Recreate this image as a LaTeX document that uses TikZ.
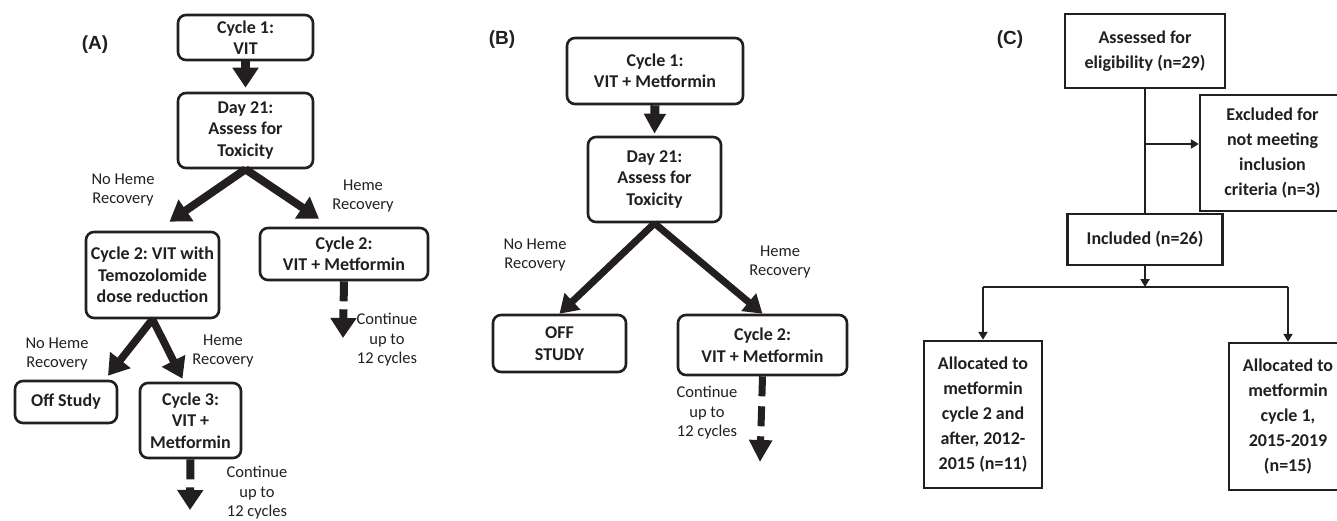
\documentclass[tikz,border=0pt]{standalone}
\usepackage{fontspec}
\setmainfont{Carlito}
\newfontfamily\labelfont{Liberation Sans}
\usetikzlibrary{arrows.meta}
\frenchspacing

\definecolor{ink}{RGB}{35,31,32}

\tikzset{
  rbox/.style={draw=ink, line width=2.6pt, rounded corners=8pt, align=center, inner sep=0pt,
               text=ink, font=\bfseries\fontsize{18}{21.5}\selectfont},
  sbox/.style={draw=ink, line width=2.4pt, align=center, inner sep=0pt,
               text=ink, font=\bfseries\fontsize{18}{25}\selectfont},
  note/.style={align=center, text=ink, font=\fontsize{16.5}{19.5}\selectfont},
  panel/.style={text=ink, font=\labelfont\bfseries\fontsize{19}{22}\selectfont},
  bigarrow/.style={draw=ink, line width=8pt, -{Triangle[width=25pt,length=20pt]}},
  dasharrow/.style={bigarrow, dash pattern=on 20pt off 8pt},
  thinline/.style={draw=ink, line width=2pt},
  thinarrow/.style={thinline, -{Triangle[width=9pt,length=8pt]}},
}

\begin{document}
\begin{tikzpicture}[x=1pt, y=-1pt]

\useasboundingbox (0,0) rectangle (1337,521);

% ===== Panel A: VIT first =====
\begin{scope}[shift={(0,0)}]
    % Label
    \node[panel] (labA) at (95,45) {(A)};

    % Boxes
    \node[rbox, minimum width=135pt, minimum height=45pt] (a1) at (245.5,37.5) {Cycle 1:\\VIT};
    \node[rbox, minimum width=135pt, minimum height=75pt] (a21) at (245.5,130.5) {Day 21:\\Assess for\\Toxicity};
    \node[rbox, minimum width=133pt, minimum height=86pt] (a2red) at (152.5,275) {Cycle 2: VIT with\\Temozolomide\\dose reduction};
    \node[rbox, minimum width=168pt, minimum height=52pt] (a2met) at (344,254) {Cycle 2:\\VIT + Metformin};
    \node[rbox, minimum width=102pt, minimum height=42pt] (aoff) at (66,402) {Off Study};
    \node[rbox, minimum width=101pt, minimum height=75pt] (a3) at (190.5,420.5) {Cycle 3:\\VIT +\\Metformin};

    % Notes
    \node[note] (anoa) at (123,190) {No Heme\\Recovery};
    \node[note] (ayesa) at (363,196) {Heme\\Recovery};
    \node[note] (anob) at (57,354) {No Heme\\Recovery};
    \node[note] (ayesb) at (223,351) {Heme\\Recovery};
    \node[note] (aconta) at (387,340) {Continue\\up to\\12 cycles};
    \node[note] (acontb) at (257,493) {Continue\\up to\\12 cycles};

    % Arrows
    \coordinate (aenda) at (343,338);
    \coordinate (aendb) at (190,510);
    \draw[bigarrow, line width=9pt] (a1.south) -- ([yshift=4pt]a21.north);
    \draw[bigarrow] (a21.south) -- ([xshift=17pt,yshift=9pt]a2red.north);
    \draw[bigarrow] (a21.south) -- ([xshift=-25pt,yshift=8pt]a2met.north);
    \draw[bigarrow, line width=7.5pt] (a2red.south) -- ([xshift=42pt,yshift=4pt]aoff.north);
    \draw[bigarrow, line width=7.5pt] (a2red.south) -- ([xshift=-8pt,yshift=3pt]a3.north);
    \draw[dasharrow] (a2met.south) -- (aenda);
    \draw[dasharrow] (a3.south) -- (aendb);
\end{scope}

% ===== Panel B: metformin from cycle 1 =====
\begin{scope}[shift={(450,0)}]
    % Label
    \node[panel] (labB) at (52,40) {(B)};

    % Boxes
    \node[rbox, minimum width=176pt, minimum height=66pt] (b1) at (205,71) {Cycle 1:\\VIT + Metformin};
    \node[rbox, minimum width=133pt, minimum height=85pt] (b21) at (204.5,179.5) {Day 21:\\Assess for\\Toxicity};
    \node[rbox, minimum width=133pt, minimum height=57pt] (boff) at (109.5,343.5) {OFF\\STUDY};
    \node[rbox, minimum width=169pt, minimum height=60pt] (b2) at (312.5,345) {Cycle 2:\\VIT + Metformin};

    % Notes
    \node[note] (bno) at (85,255) {No Heme\\Recovery};
    \node[note] (byes) at (330,262) {Heme\\Recovery};
    \node[note] (bcont) at (257,413) {Continue\\up to\\12 cycles};

    % Arrows
    \coordinate (bend) at (310,462);
    \draw[bigarrow, line width=9pt, -{Triangle[width=21pt,length=20pt]}] (b1.south) -- ([yshift=2pt]b21.north);
    \draw[bigarrow, line width=7pt, -{Triangle[width=22pt,length=18pt]}] (b21.south) -- (boff.north);
    \draw[bigarrow, line width=7pt, -{Triangle[width=22pt,length=18pt]}] (b21.south) -- (b2.north);
    \draw[dasharrow, line width=7pt, dash pattern=on 20pt off 10pt, -{Triangle[width=22pt,length=22pt]}] (b2.south) -- (bend);
\end{scope}

% ===== Panel C: enrolment =====
\begin{scope}[shift={(860,0)}]
    % Label
    \node[panel] (labC) at (150,40) {(C)};

    % Boxes
    \node[sbox, minimum width=160pt, minimum height=74pt] (assess) at (285,51) {Assessed for\\eligibility (n=29)};
    \node[sbox, minimum width=145pt, minimum height=116pt] (excl) at (412.5,153) {Excluded for\\not meeting\\inclusion\\criteria (n=3)};
    \node[sbox, minimum width=155pt, minimum height=51pt] (incl) at (285,239.5) {Included (n=26)};
    \node[sbox, minimum width=118pt, minimum height=147pt] (allocL) at (123,414.5) {Allocated to\\metformin\\cycle 2 and\\after, 2012-\\2015 (n=11)};
    \node[sbox, minimum width=118pt, minimum height=147pt] (allocR) at (428,416.5) {Allocated to\\metformin\\cycle 1,\\2015-2019\\(n=15)};

    % Connectors
    \coordinate (split) at (285,144);
    \coordinate (fork) at (285,287);
    \draw[thinline] (assess.south) -- (incl.north);
    \draw[thinarrow] (split) -- (split -| excl.west);
    \draw[thinarrow] (incl.south) -- (fork);
    \draw[thinline] (allocL.north |- fork) -- (allocR.north |- fork);
    \draw[thinarrow] (allocL.north |- fork) -- (allocL.north);
    \draw[thinarrow] (allocR.north |- fork) -- (allocR.north);
\end{scope}

\end{tikzpicture}
\end{document}
